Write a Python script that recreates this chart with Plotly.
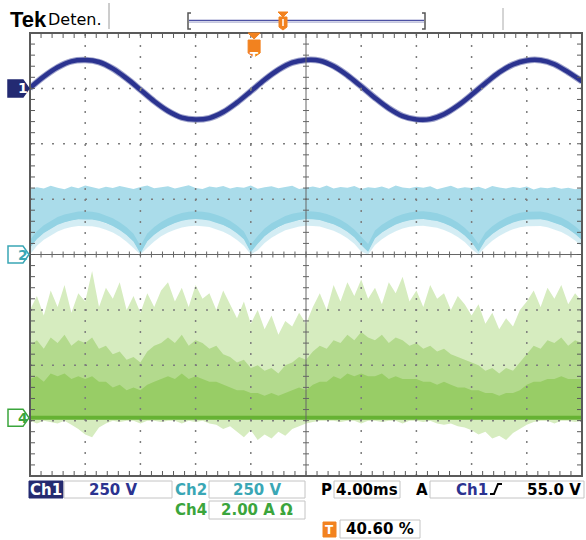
import numpy as np
import plotly.graph_objects as go

# ---------------- acquisition settings ----------------
TIME_PER_DIV = 4.0          # ms/div, 10 horizontal divisions
N_HDIV, N_VDIV = 10, 8
TRIG_POS_PCT = 40.60        # trigger position on screen, %

CH1_SCALE, CH1_POS = 250.0, 3.0     # V/div, ground offset (div from centre)
CH2_SCALE, CH2_POS = 250.0, 0.0
CH4_SCALE, CH4_POS = 2.0, -2.95     # A/div

# ---------------- waveform data ----------------
# Ch1 line voltage (V), one sample per ms across the screen
ch1_v = [2, 53, 95, 122, 128, 119, 89, 45, -6, -58,
         -102, -132, -141, -134, -107, -64, -13, 39, 84, 116,
         128, 125, 100, 59, 9, -43, -90, -125, -140, -139,
         -117, -78, -29, 23, 72, 108, 126, 127, 109, 73,
         32]

# Ch2 envelope (V), one sample per 0.5 ms: upper edge and lower (arched) edge
ch2_top_v = [296, 304, 298, 310, 301, 295, 307, 299, 312, 303,
             297, 306, 300, 309, 302, 296, 305, 311, 299, 303,
             308, 298, 304, 313, 300, 296, 307, 302, 309, 298,
             305, 301, 311, 297, 304, 308, 299, 303, 310, 296,
             302, 307, 300, 312, 298, 305, 301, 309, 296, 304,
             300, 307, 297, 311, 303, 299, 306, 301, 308, 295,
             303, 310, 298, 304, 300, 306, 296, 309, 302, 298,
             305, 300, 307, 294, 302, 299, 305, 297, 301, 295,
             299]
ch2_arch_v = [30, 70, 97, 117, 134, 146, 154, 159, 160, 158,
              152, 142, 129, 111, 88, 59, 5, 60, 89, 112,
              129, 142, 152, 158, 160, 158, 154, 145, 133, 117,
              96, 69, 10, 49, 82, 106, 124, 139, 149, 156,
              160, 159, 156, 148, 137, 122, 103, 78, 43, 12,
              73, 99, 119, 135, 147, 155, 159, 160, 157, 151,
              141, 127, 109, 86, 55, 12, 64, 92, 114, 131,
              144, 153, 158, 160, 159, 153, 144, 132, 115, 93,
              65]

# Ch4 current (A), one sample per 0.5 ms: sparse peaks, dense body, core, below-zero spikes
ch4_peak_a = [3.9, 4.4, 3.7, 4.6, 4.0, 4.8, 3.8, 4.5,
              4.2, 5.3, 4.0, 4.7, 4.3, 4.9, 3.9,
              4.4, 3.8, 4.5, 4.0, 4.6,
              4.9, 4.2, 4.7, 4.0, 4.8, 4.3, 4.5, 3.9, 4.6, 4.1,
              3.6, 4.2, 3.4, 3.9, 3.2, 3.7, 3.0, 3.5, 3.3,
              3.8, 3.4, 4.0, 4.5, 3.9,
              4.8, 4.2, 4.9, 4.4, 5.0, 4.3, 4.7, 4.1, 4.9, 4.5,
              5.1, 4.2, 4.6, 4.0, 4.8, 4.3, 4.5, 3.9, 4.4, 4.1,
              3.7, 4.1, 3.4, 3.8, 3.2, 3.6, 3.3, 3.9, 4.2,
              4.6, 4.0, 4.7, 4.3, 4.8, 4.1, 4.5, 4.2]
ch4_body_a = [2.6, 2.8, 2.5, 2.9, 2.7, 3.0, 2.6, 2.8,
              2.7, 2.9, 2.5, 2.6, 2.3, 2.4, 2.1,
              2.2, 2.0, 2.4, 2.6, 2.7,
              2.9, 2.7, 3.0, 2.6, 2.8, 2.7, 2.5, 2.6, 2.3, 2.2,
              2.0, 2.1, 1.8, 1.9, 1.7, 1.8, 1.6, 1.9, 2.0,
              2.2, 2.1, 2.4, 2.6, 2.5,
              2.8, 2.7, 3.0, 2.8, 3.1, 2.9, 2.8, 3.0, 2.7, 2.9,
              2.8, 2.6, 2.7, 2.5, 2.6, 2.4, 2.5, 2.3, 2.2, 2.1,
              2.0, 1.9, 1.7, 1.8, 1.6, 1.8, 1.7, 2.0, 2.3,
              2.6, 2.5, 2.8, 2.7, 2.9, 2.6, 2.8, 2.7]
ch4_core_a = [1.4, 1.5, 1.3, 1.6, 1.5, 1.6, 1.4, 1.5,
              1.4, 1.5, 1.3, 1.3, 1.1, 1.2, 1.0,
              1.1, 1.0, 1.2, 1.3, 1.4,
              1.5, 1.4, 1.6, 1.4, 1.5, 1.4, 1.3, 1.3, 1.2, 1.1,
              1.0, 1.0, 0.9, 0.9, 0.8, 0.9, 0.8, 0.9, 1.0,
              1.1, 1.0, 1.2, 1.3, 1.3,
              1.5, 1.4, 1.6, 1.5, 1.6, 1.5, 1.5, 1.6, 1.4, 1.5,
              1.4, 1.4, 1.4, 1.3, 1.3, 1.2, 1.3, 1.2, 1.1, 1.1,
              1.0, 1.0, 0.9, 0.9, 0.8, 0.9, 0.9, 1.0, 1.2,
              1.3, 1.3, 1.4, 1.4, 1.5, 1.4, 1.4, 1.4]
ch4_floor_a = [-0.1, -0.2, -0.1, -0.15, -0.2, -0.1, -0.25, -0.4,
               -0.6, -0.7, -0.35, -0.2, -0.1, -0.15, -0.1,
               -0.1, -0.2, -0.1, -0.1, -0.15,
               -0.1, -0.1, -0.2, -0.1, -0.15, -0.1, -0.2, -0.25, -0.4, -0.3,
               -0.5, -0.7, -0.45, -0.8, -0.6, -0.75, -0.5, -0.65, -0.4,
               -0.3, -0.2, -0.15, -0.1, -0.1,
               -0.1, -0.15, -0.1, -0.1, -0.2, -0.1, -0.1, -0.15, -0.1, -0.1,
               -0.2, -0.1, -0.1, -0.15, -0.1, -0.2, -0.25, -0.2, -0.3, -0.35,
               -0.45, -0.6, -0.5, -0.75, -0.65, -0.8, -0.55, -0.4, -0.25,
               -0.15, -0.1, -0.1, -0.2, -0.1, -0.1, -0.15, -0.1]

# readout panel texts
CH1_READ = "250 V"
CH2_READ = "250 V"
CH4_READ = "2.00 A \u03a9"
TIMEBASE_READ = "4.00ms"
TRIG_LEVEL_READ = "55.0 V"
TRIG_POS_READ = "40.60 %"

for arr in (ch2_top_v, ch2_arch_v, ch4_peak_a, ch4_body_a, ch4_core_a, ch4_floor_a):
    assert len(arr) == 81, len(arr)
assert len(ch1_v) == 41

# ---------------- page geometry ----------------
W, H = 586, 540
ML, MR, MT, MB = 30, 4, 33, 64
PW, PH = W - ML - MR, H - MT - MB


def px(x):
    return (x - ML) / PW


def py(y):
    return (H - MB - y) / PH


half_t = TIME_PER_DIV * N_HDIV / 2
t_1ms = np.linspace(-half_t, half_t, len(ch1_v))
t_half = np.linspace(-half_t, half_t, len(ch2_top_v))


def yrange(scale, pos):
    return [(-N_VDIV / 2 - pos) * scale, (N_VDIV / 2 - pos) * scale]


NAVY = "#2b3390"
TEAL = "#3aa7b5"
GREEN = "#3ba53c"
ORANGE = "#f2821f"

fig = go.Figure()


def band(t, lo, hi, color, yaxis):
    t = np.asarray(t)
    lo = np.asarray(lo, dtype=float)
    hi = np.asarray(hi, dtype=float)
    fig.add_trace(go.Scatter(
        x=np.concatenate([t, t[::-1]]), y=np.concatenate([hi, lo[::-1]]),
        fill="toself", fillcolor=color, line=dict(width=0), mode="lines",
        yaxis=yaxis, hoverinfo="skip", showlegend=False))


# Ch4 current
zeros = np.zeros(len(t_half))
band(t_half, ch4_floor_a, ch4_peak_a, "#d6ecbf", "y3")
band(t_half, zeros, ch4_body_a, "#b3da8d", "y3")
band(t_half, zeros, ch4_core_a, "#98cd66", "y3")
fig.add_trace(go.Scatter(x=t_half, y=zeros, mode="lines",
                         line=dict(color="#66b233", width=4),
                         yaxis="y3", hoverinfo="skip", showlegend=False))

# Ch2 voltage band
arch = np.asarray(ch2_arch_v, dtype=float)
top = np.asarray(ch2_top_v, dtype=float)
band(t_half, np.clip(arch - 30, 0, None), arch, "rgba(170,220,234,0.5)", "y")
band(t_half, arch, top, "#aadcea", "y")
band(t_half, arch, np.minimum(arch + 35, top), "#92d2e3", "y")

# Ch1 line voltage
fig.add_trace(go.Scatter(x=t_1ms, y=ch1_v, mode="lines", line_shape="spline",
                         line=dict(color="rgba(40,48,140,0.45)", width=6.5),
                         yaxis="y2", hoverinfo="skip", showlegend=False))
fig.add_trace(go.Scatter(x=t_1ms, y=ch1_v, mode="lines", line_shape="spline",
                         line=dict(color=NAVY, width=4.5),
                         yaxis="y2", hoverinfo="skip", showlegend=False))

# ---------------- graticule ----------------
shapes = []
GRID = "#7d7d7d"
EDGE = "#5a5a5a"
minor_x = TIME_PER_DIV / 5
minor_y = CH2_SCALE / 5

for k in range(-N_HDIV // 2 + 1, N_HDIV // 2):
    if k == 0:
        continue
    shapes.append(dict(type="line", layer="above", xref="x", yref="paper",
                       x0=k * TIME_PER_DIV, x1=k * TIME_PER_DIV, y0=0, y1=1,
                       line=dict(color=GRID, width=1.5, dash="2px,9px")))
for k in range(-N_VDIV // 2 + 1, N_VDIV // 2):
    if k == 0:
        continue
    shapes.append(dict(type="line", layer="above", xref="paper", yref="y",
                       x0=0, x1=1, y0=k * CH2_SCALE, y1=k * CH2_SCALE,
                       line=dict(color=GRID, width=1.5, dash="2px,9px")))

# centre crosshair
shapes.append(dict(type="line", layer="above", xref="x", yref="paper",
                   x0=0, x1=0, y0=0, y1=1, line=dict(color="#666", width=1)))
shapes.append(dict(type="line", layer="above", xref="paper", yref="y",
                   x0=0, x1=1, y0=0, y1=0, line=dict(color="#666", width=1)))

nx = int(round(half_t / minor_x))
ny = int(round((N_VDIV / 2 * CH2_SCALE) / minor_y))
for m in range(-nx + 1, nx):
    tx = m * minor_x
    shapes.append(dict(type="line", layer="above", xref="x", yref="y",
                       ysizemode="pixel", yanchor=0, x0=tx, x1=tx, y0=-3, y1=3,
                       line=dict(color="#666", width=1)))
    shapes.append(dict(type="line", layer="above", xref="x", yref="paper",
                       ysizemode="pixel", yanchor=1, x0=tx, x1=tx, y0=0, y1=-5,
                       line=dict(color=EDGE, width=1)))
    shapes.append(dict(type="line", layer="above", xref="x", yref="paper",
                       ysizemode="pixel", yanchor=0, x0=tx, x1=tx, y0=0, y1=5,
                       line=dict(color=EDGE, width=1)))
for m in range(-ny + 1, ny):
    vy = m * minor_y
    shapes.append(dict(type="line", layer="above", xref="x", yref="y",
                       xsizemode="pixel", xanchor=0, x0=-3, x1=3, y0=vy, y1=vy,
                       line=dict(color="#666", width=1)))
    shapes.append(dict(type="line", layer="above", xref="paper", yref="y",
                       xsizemode="pixel", xanchor=0, x0=0, x1=5, y0=vy, y1=vy,
                       line=dict(color=EDGE, width=1)))
    shapes.append(dict(type="line", layer="above", xref="paper", yref="y",
                       xsizemode="pixel", xanchor=1, x0=0, x1=-5, y0=vy, y1=vy,
                       line=dict(color=EDGE, width=1)))

shapes.append(dict(type="rect", layer="above", xref="paper", yref="paper",
                   x0=0, x1=1, y0=0, y1=1, line=dict(color=EDGE, width=2)))

annotations = []


def txt(x, y, s, color="black", size=15, family="DejaVu Sans", bold=True,
        xanchor="center"):
    annotations.append(dict(
        x=px(x), y=py(y), xref="paper", yref="paper", text=s, showarrow=False,
        xanchor=xanchor, yanchor="middle",
        font=dict(color=color, size=size, family=family,
                  weight="bold" if bold else "normal")))


def prect(x0, y0, x1, y1, fill="white", line="#c4c4c4", width=1):
    shapes.append(dict(type="rect", layer="above", xref="paper", yref="paper",
                       x0=px(x0), x1=px(x1), y0=py(y1), y1=py(y0),
                       fillcolor=fill, line=dict(color=line, width=width)))


def pline(x0, y0, x1, y1, color="#999", width=1):
    shapes.append(dict(type="line", layer="above", xref="paper", yref="paper",
                       x0=px(x0), x1=px(x1), y0=py(y0), y1=py(y1),
                       line=dict(color=color, width=width)))


def ppath(points, fill=None, color="#000", width=1, closed=True):
    d = "M" + " L".join(f"{px(a):.5f},{py(b):.5f}" for a, b in points)
    if closed:
        d += " Z"
    shapes.append(dict(type="path", layer="above", xref="paper", yref="paper",
                       path=d, fillcolor=fill,
                       line=dict(color=color, width=width)))


# ---------------- channel ground markers ----------------
marker_path = "M-22,-8.5 L-7,-8.5 L-1,0 L-7,8.5 L-22,8.5 Z"
for label, yax, fill, edge, tcol in (("1", "y2", "#232a72", "#232a72", "white"),
                                      ("2", "y", "white", TEAL, TEAL),
                                      ("4", "y3", "white", GREEN, GREEN)):
    shapes.append(dict(type="path", layer="above", xref="paper", yref=yax,
                       xsizemode="pixel", xanchor=0, ysizemode="pixel", yanchor=0,
                       path=marker_path, fillcolor=fill,
                       line=dict(color=edge, width=1.5)))
    annotations.append(dict(x=0, y=0, xref="paper", yref=yax, xshift=-14,
                            text=label, showarrow=False,
                            font=dict(color=tcol, size=14, family="DejaVu Sans",
                                      weight="bold")))

# trigger position marker on top edge
trig_x = TRIG_POS_PCT / 100
shapes.append(dict(type="path", layer="above", xref="paper", yref="paper",
                   xsizemode="pixel", xanchor=trig_x, ysizemode="pixel", yanchor=1,
                   path="M-6,0 L6,0 L0,-6 Z", fillcolor=ORANGE,
                   line=dict(color=ORANGE, width=1)))
shapes.append(dict(type="path", layer="above", xref="paper", yref="paper",
                   xsizemode="pixel", xanchor=trig_x, ysizemode="pixel", yanchor=1,
                   path="M-6,-7 L6,-7 L6,-20 L0,-24 L-6,-20 Z", fillcolor=ORANGE,
                   line=dict(color=ORANGE, width=1)))
annotations.append(dict(x=trig_x, y=1, xref="paper", yref="paper", yshift=-15,
                        text="T", showarrow=False,
                        font=dict(color="white", size=12, family="DejaVu Sans",
                                  weight="bold")))

# ---------------- status bar (top) ----------------
txt(8, 19, "Tek", size=22, family="Liberation Sans", xanchor="left")
txt(46, 20, "Deten.", size=16, family="DejaVu Sans", bold=False, xanchor="left")
pline(109, 3, 109, 29, color="#9a9a9a", width=1)
ppath([(191, 13), (188, 13), (188, 29), (191, 29)], color="#555", width=1.5, closed=False)
ppath([(422, 13), (425, 13), (425, 29), (422, 29)], color="#555", width=1.5, closed=False)
pline(189, 20.5, 424, 20.5, color="#4b50a3", width=1.5)
pline(189, 22.5, 424, 22.5, color="#c5c7de", width=1)
ppath([(278, 12), (288, 12), (283, 17)], fill=ORANGE, color=ORANGE)
ppath([(279, 17), (287, 17), (287, 27), (283, 30), (279, 27)], fill=ORANGE, color=ORANGE)
pline(283, 19, 283, 26, color="white", width=1.5)
pline(503, 8, 503, 30, color="#aaaaaa", width=1)

# ---------------- readout panel (bottom) ----------------
prect(29, 481, 63, 498, fill="#252b70", line="#252b70")
txt(46, 489.5, "Ch1", color="white")
prect(64, 481, 172, 498)
txt(113, 489.5, CH1_READ, color=NAVY)
txt(191, 489.5, "Ch2", color=TEAL)
prect(209, 481, 305, 498)
txt(257, 489.5, CH2_READ, color=TEAL)
txt(191, 510, "Ch4", color=GREEN)
prect(209, 501, 305, 519)
txt(257, 510, CH4_READ, color=GREEN)
txt(326, 489.5, "P")
prect(334, 481, 400, 498)
txt(367, 489.5, TIMEBASE_READ)
txt(422, 489.5, "A")
prect(430, 481, 584, 498)
txt(472, 489.5, "Ch1", color=NAVY)
ppath([(490, 494), (494, 494), (498, 484), (502, 484)], color="black", width=2, closed=False)
txt(554, 489.5, TRIG_LEVEL_READ)
shapes.append(dict(type="rect", layer="above", xref="paper", yref="paper",
                   x0=px(323), x1=px(336), y0=py(537), y1=py(522),
                   fillcolor=ORANGE, line=dict(color=ORANGE, width=1)))
txt(329.5, 529.5, "T", color="white", size=12)
prect(340, 520, 420, 538)
txt(380, 529, TRIG_POS_READ)

hidden = dict(showgrid=False, zeroline=False, showticklabels=False, ticks="",
              showline=False, fixedrange=True)
fig.update_layout(
    width=W, height=H, margin=dict(l=ML, r=MR, t=MT, b=MB),
    paper_bgcolor="white", plot_bgcolor="white", showlegend=False,
    xaxis=dict(range=[-half_t, half_t], **hidden),
    yaxis=dict(range=yrange(CH2_SCALE, CH2_POS), **hidden),
    yaxis2=dict(range=yrange(CH1_SCALE, CH1_POS), overlaying="y", **hidden),
    yaxis3=dict(range=yrange(CH4_SCALE, CH4_POS), overlaying="y", **hidden),
    shapes=shapes, annotations=annotations,
)

fig.write_html("out.html")
